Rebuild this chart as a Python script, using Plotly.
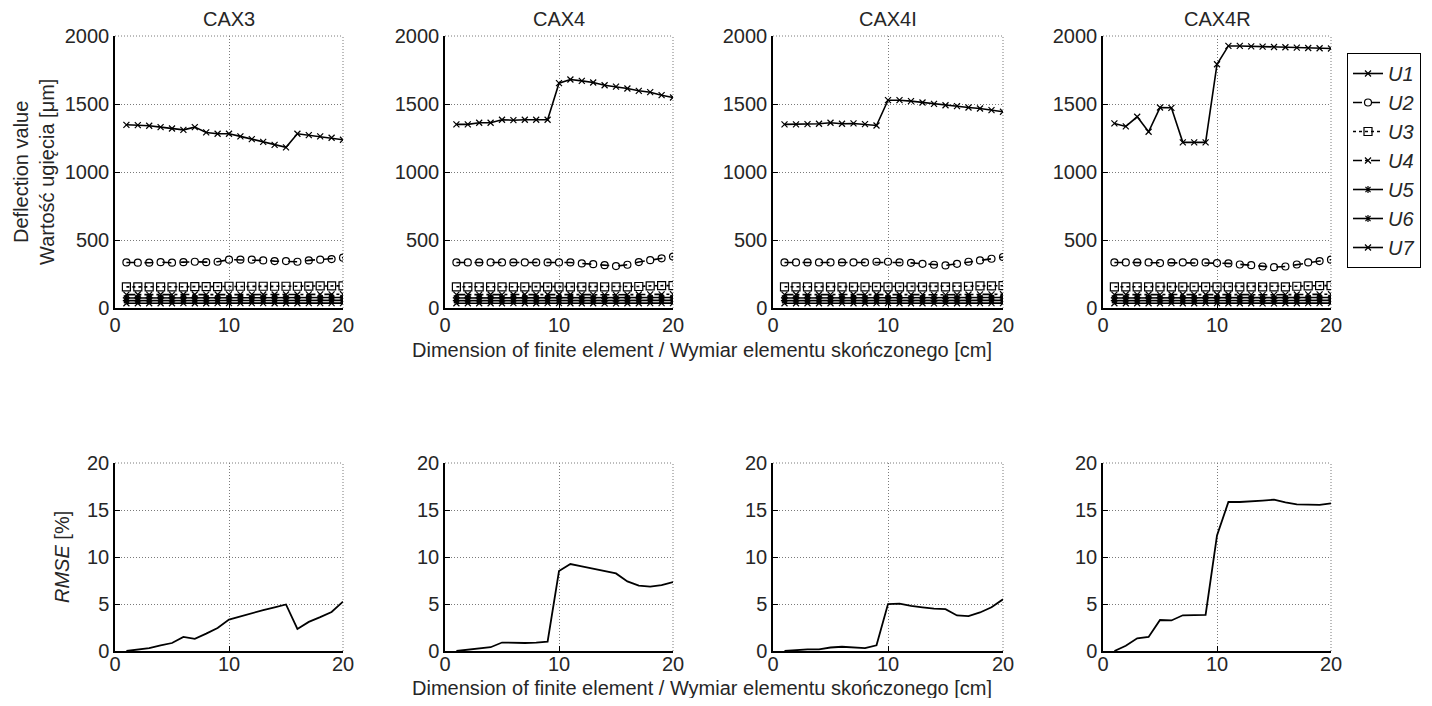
import plotly.graph_objects as go

W, H = 1432, 706

x_vals = list(range(1, 21))
panel_names = ["CAX3", "CAX4", "CAX4I", "CAX4R"]
series_names = ["U1", "U2", "U3", "U4", "U5", "U6", "U7"]

# Deflection values [µm] per panel
cax3 = {
    "U1": [1347, 1345, 1340, 1330, 1320, 1310, 1330, 1291, 1281, 1281, 1262, 1242, 1222, 1200, 1181, 1281, 1271, 1262, 1252, 1237],
    "U2": [335, 333, 333, 337, 333, 337, 340, 337, 340, 355, 355, 355, 350, 345, 345, 340, 350, 355, 360, 370],
    "U3": [155, 155, 156, 156, 156, 156, 157, 157, 157, 160, 160, 160, 160, 160, 160, 160, 161, 162, 162, 163],
    "U4": [98, 99, 98, 99, 98, 99, 99, 98, 99, 100, 100, 100, 99, 99, 99, 99, 100, 100, 100, 101],
    "U5": [74, 74, 75, 74, 75, 74, 75, 75, 74, 76, 76, 76, 75, 75, 75, 75, 76, 76, 76, 77],
    "U6": [54, 54, 54, 55, 54, 54, 55, 54, 55, 56, 56, 55, 55, 55, 55, 55, 55, 56, 56, 56],
    "U7": [35, 35, 35, 35, 35, 36, 35, 35, 36, 36, 36, 36, 36, 35, 35, 35, 36, 36, 36, 36],
}
cax4 = {
    "U1": [1350, 1350, 1362, 1362, 1384, 1381, 1384, 1384, 1384, 1653, 1680, 1670, 1658, 1638, 1628, 1614, 1597, 1587, 1565, 1548],
    "U2": [335, 335, 335, 335, 335, 335, 335, 335, 335, 335, 335, 328, 322, 315, 308, 318, 338, 352, 365, 378],
    "U3": [156, 156, 156, 156, 156, 156, 156, 156, 156, 156, 156, 156, 156, 156, 156, 156, 158, 163, 165, 165],
    "U4": [98, 99, 98, 99, 98, 99, 99, 98, 99, 99, 99, 98, 98, 97, 97, 98, 99, 100, 100, 101],
    "U5": [74, 74, 75, 74, 75, 74, 75, 75, 74, 75, 75, 74, 74, 73, 73, 74, 75, 76, 76, 77],
    "U6": [54, 54, 54, 55, 54, 54, 55, 54, 55, 55, 55, 54, 54, 53, 53, 54, 55, 56, 56, 56],
    "U7": [35, 35, 35, 35, 35, 36, 35, 35, 36, 36, 35, 35, 35, 34, 34, 35, 35, 36, 36, 36],
}
cax4i = {
    "U1": [1350, 1350, 1352, 1355, 1362, 1355, 1357, 1352, 1342, 1528, 1528, 1521, 1511, 1501, 1491, 1484, 1474, 1467, 1455, 1443],
    "U2": [335, 335, 335, 335, 335, 335, 335, 335, 340, 340, 335, 332, 325, 318, 313, 325, 340, 350, 362, 375],
    "U3": [156, 156, 156, 156, 156, 156, 156, 156, 156, 156, 156, 156, 156, 156, 156, 156, 160, 162, 163, 164],
    "U4": [98, 99, 98, 99, 98, 99, 99, 98, 99, 99, 99, 98, 98, 97, 97, 98, 99, 100, 100, 101],
    "U5": [74, 74, 75, 74, 75, 74, 75, 75, 74, 75, 75, 74, 74, 73, 73, 74, 75, 76, 76, 77],
    "U6": [54, 54, 54, 55, 54, 54, 55, 54, 55, 55, 55, 54, 54, 53, 53, 54, 55, 56, 56, 56],
    "U7": [35, 35, 35, 35, 35, 36, 35, 35, 36, 36, 35, 35, 35, 34, 34, 35, 35, 36, 36, 36],
}
cax4r = {
    "U1": [1357, 1335, 1406, 1296, 1474, 1472, 1218, 1218, 1218, 1792, 1927, 1927, 1924, 1922, 1919, 1917, 1914, 1912, 1910, 1908],
    "U2": [335, 335, 335, 335, 330, 335, 335, 335, 335, 330, 328, 320, 315, 305, 300, 305, 320, 335, 345, 355],
    "U3": [156, 156, 156, 156, 156, 156, 156, 156, 156, 156, 156, 156, 156, 156, 156, 156, 160, 163, 164, 165],
    "U4": [98, 99, 98, 99, 98, 99, 99, 98, 99, 99, 99, 98, 98, 97, 97, 98, 99, 100, 100, 101],
    "U5": [74, 74, 75, 74, 75, 74, 75, 75, 74, 75, 75, 74, 74, 73, 73, 74, 75, 76, 76, 77],
    "U6": [54, 54, 54, 55, 54, 54, 55, 54, 55, 55, 55, 54, 54, 53, 53, 54, 55, 56, 56, 56],
    "U7": [35, 35, 35, 35, 35, 36, 35, 35, 36, 36, 35, 35, 35, 34, 34, 35, 35, 36, 36, 36],
}
deflection = [cax3, cax4, cax4i, cax4r]

# RMSE [%] per panel
rmse_cax3 = [0.0, 0.17, 0.3, 0.6, 0.85, 1.5, 1.3, 1.85, 2.45, 3.35, 3.7, 4.0, 4.35, 4.65, 4.95, 2.35, 3.1, 3.6, 4.15, 5.25]
rmse_cax4 = [0.0, 0.15, 0.3, 0.4, 0.9, 0.85, 0.85, 0.9, 1.0, 8.5, 9.25, 9.0, 8.75, 8.5, 8.25, 7.4, 6.95, 6.85, 7.0, 7.33]
rmse_cax4i = [0.0, 0.1, 0.17, 0.17, 0.37, 0.45, 0.37, 0.3, 0.6, 5.0, 5.05, 4.8, 4.65, 4.5, 4.45, 3.78, 3.72, 4.1, 4.65, 5.5]
rmse_cax4r = [0.0, 0.55, 1.35, 1.5, 3.3, 3.25, 3.8, 3.85, 3.85, 12.3, 15.85, 15.85, 15.9, 16.0, 16.1, 15.8, 15.6, 15.55, 15.55, 15.7]
rmse = [rmse_cax3, rmse_cax4, rmse_cax4i, rmse_cax4r]

top_yticks = [0, 500, 1000, 1500, 2000]
bot_yticks = [0, 5, 10, 15, 20]
x_ticks = [0, 10, 20]

x_title = "Dimension of finite element / Wymiar elementu skończonego [cm]"
y_title_top = "Deflection value<br>Wartość ugięcia [μm]"
y_title_bottom = "<i>RMSE</i> [%]"

# ---- styles ----
FONT = "Liberation Sans, Arial, sans-serif"
TXT = "#262626"
GRID = "#7a7a7a"
GRIDDASH = "1px,2px"
styles = {
    "U1": dict(dash="solid", symbol="x-thin-open", size=6),
    "U2": dict(dash="dash", symbol="circle-open", size=7),
    "U3": dict(dash="dot", symbol="square-open", size=8),
    "U4": dict(dash="dashdot", symbol="x-thin-open", size=6),
    "U5": dict(dash="solid", symbol="asterisk-open", size=6),
    "U6": dict(dash="solid", symbol="asterisk-open", size=6),
    "U7": dict(dash="solid", symbol="x-thin-open", size=6),
}

# page body margin (8 px) -> figure is slightly smaller and shifted
OFF = 8
FW, FH = W - 2 * OFF, H - 2 * OFF

# pixel geometry of plot areas (in window pixels)
col_px = [(115, 343), (445, 673), (773, 1003), (1103, 1331)]
top_px = (36, 308)
bot_px = (463, 651)

def px_x(a):
    return (a - OFF) / FW

def px_y(b):
    return 1 - (b - OFF) / FH

def ax_id(letter, n):
    return letter if n == 1 else f"{letter}{n}"

fig = go.Figure()
layout = {}
shapes = []

for i in range(4):
    xa_top, ya_top = ax_id("x", i + 1), ax_id("y", i + 1)
    xa_bot, ya_bot = ax_id("x", i + 5), ax_id("y", i + 5)
    d = deflection[i]
    for name in series_names:
        st = styles[name]
        fig.add_trace(go.Scatter(
            x=x_vals, y=d[name], mode="lines+markers", name=f"<i>{name}</i>",
            legendgroup=name, showlegend=(i == 0),
            line=dict(color="black", width=1.6, dash=st["dash"]),
            marker=dict(symbol=st["symbol"], size=st["size"], color="black",
                        line=dict(color="black", width=1.2)),
            xaxis=xa_top, yaxis=ya_top,
        ))
    fig.add_trace(go.Scatter(
        x=x_vals, y=rmse[i], mode="lines", showlegend=False,
        line=dict(color="black", width=1.8),
        xaxis=xa_bot, yaxis=ya_bot,
    ))

    common = dict(ticks="inside", ticklen=5, tickcolor="black", showline=True,
                  linecolor="black", linewidth=1.5, showgrid=True, gridcolor=GRID,
                  griddash=GRIDDASH, gridwidth=1, zeroline=False,
                  tickfont=dict(size=20, color=TXT, family=FONT), fixedrange=True)
    common_x = dict(common, range=[0, 20], tickvals=x_ticks)
    dom_x = [px_x(col_px[i][0]), px_x(col_px[i][1])]
    k_top = "" if i == 0 else str(i + 1)
    layout[f"xaxis{k_top}"] = dict(common_x, domain=dom_x, anchor=ya_top, ticklabelstandoff=-2)
    layout[f"yaxis{k_top}"] = dict(common, domain=[px_y(top_px[1]), px_y(top_px[0])],
                                   anchor=xa_top, range=[0, 2000], tickvals=top_yticks)
    layout[f"xaxis{i + 5}"] = dict(common_x, domain=dom_x, anchor=ya_bot, ticklabelstandoff=-6)
    layout[f"yaxis{i + 5}"] = dict(common, domain=[px_y(bot_px[1]), px_y(bot_px[0])],
                                   anchor=xa_bot, range=[0, 20], tickvals=bot_yticks)

    # dotted box edges (top & right), as in the reference
    for xa, ya in ((xa_top, ya_top), (xa_bot, ya_bot)):
        shapes.append(dict(type="line", xref=f"{xa} domain", yref=f"{ya} domain",
                           x0=0, x1=1, y0=1, y1=1,
                           line=dict(color=GRID, width=1, dash=GRIDDASH), layer="below"))
        shapes.append(dict(type="line", xref=f"{xa} domain", yref=f"{ya} domain",
                           x0=1, x1=1, y0=0, y1=1,
                           line=dict(color=GRID, width=1, dash=GRIDDASH), layer="below"))

def note(text, cx, cy, angle=0):
    return dict(text=text, x=px_x(cx), y=px_y(cy), xref="paper", yref="paper",
                xanchor="center", yanchor="middle", showarrow=False, textangle=angle,
                font=dict(size=20, color=TXT, family=FONT))

annotations = []
for i, name in enumerate(panel_names):
    annotations.append(note(name, (col_px[i][0] + col_px[i][1]) / 2, 19))
for yy in (350, 688):
    annotations.append(note(x_title, 702, yy))
annotations.append(note(y_title_top, 34, 172, -90))
annotations.append(note(y_title_bottom, 62, 557, -90))

fig.update_layout(
    width=FW, height=FH,
    margin=dict(l=0, r=0, t=0, b=0, pad=0, autoexpand=False),
    paper_bgcolor="white", plot_bgcolor="white",
    font=dict(family=FONT, color=TXT),
    annotations=annotations,
    shapes=shapes,
    legend=dict(x=px_x(1347), y=px_y(53), xanchor="left", yanchor="top",
                bordercolor="black", borderwidth=1, bgcolor="white",
                font=dict(size=20, color=TXT, family=FONT),
                traceorder="grouped", tracegroupgap=0, itemwidth=30),
    **layout,
)

fig.write_html("out.html")
